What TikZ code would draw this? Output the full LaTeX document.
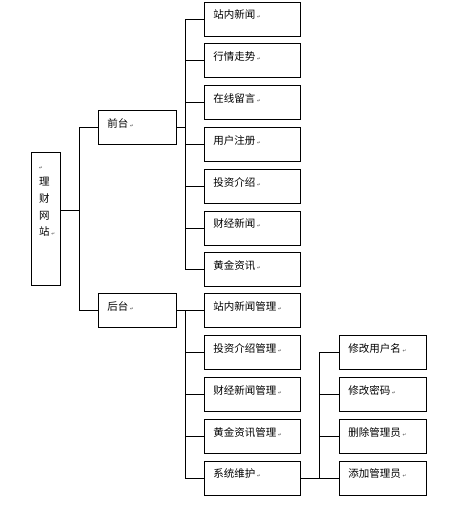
\documentclass[tikz,border=0pt]{standalone}
\usepackage{fontspec}
\newfontfamily\cjk{Noto Sans CJK SC}
\newfontfamily\symfont{DejaVu Sans}
\newcommand\parmark{{\symfont\fontsize{4.5}{5}\selectfont\textcolor{black!75}{↵}}}
\tikzset{
  conn/.style={line width=0.9pt},
  cbox/.style={draw, line width=0.9pt, anchor=north west, minimum height=34pt,
    inner xsep=8.5pt, inner ysep=0pt, text height=7pt, text depth=7pt,
    align=left, font=\cjk\fontsize{10.5}{12}\selectfont},
  wbox/.style={cbox, text width=79pt},
  rbox/.style={cbox, text width=69.4pt},
  mbox/.style={cbox, text width=60.4pt},
}
\begin{document}
\begin{tikzpicture}[x=1pt,y=-1pt]
\useasboundingbox (0,0) rectangle (456,509);
% root
\node[draw, line width=0.9pt, anchor=north west, minimum width=28.4pt, minimum height=133pt, inner sep=0pt] (root) at (31.3,152.3) {};
\node[anchor=north west, align=left, inner sep=0pt, font=\cjk\fontsize{10.5}{16.6}\selectfont] (roottext) at (39,166.3) {\parmark\\理\\财\\网\\站\,\parmark};
% level 1
\node[mbox] (qt) at (98.3,110.3) {前台\,\parmark};
\node[mbox] (ht) at (98.3,293.3) {后台\,\parmark};
% front children
\node[wbox] (f1) at (204.3,1.5) {站内新闻\,\parmark};
\node[wbox] (f2) at (204.3,43.3) {行情走势\,\parmark};
\node[wbox] (f3) at (204.3,85.1) {在线留言\,\parmark};
\node[wbox] (f4) at (204.3,126.9) {用户注册\,\parmark};
\node[wbox] (f5) at (204.3,168.7) {投资介绍\,\parmark};
\node[wbox] (f6) at (204.3,210.5) {财经新闻\,\parmark};
\node[wbox] (f7) at (204.3,252.3) {黄金资讯\,\parmark};
% back children
\node[wbox] (g1) at (204.3,293.3) {站内新闻管理\,\parmark};
\node[wbox] (g2) at (204.3,335.1) {投资介绍管理\,\parmark};
\node[wbox] (g3) at (204.3,376.9) {财经新闻管理\,\parmark};
\node[wbox] (g4) at (204.3,418.7) {黄金资讯管理\,\parmark};
\node[wbox] (g5) at (204.3,460.5) {系统维护\,\parmark};
% system maintenance children
\node[rbox] (s1) at (339.3,335.1) {修改用户名\,\parmark};
\node[rbox] (s2) at (339.3,376.9) {修改密码\,\parmark};
\node[rbox] (s3) at (339.3,418.7) {删除管理员\,\parmark};
\node[rbox] (s4) at (339.3,460.5) {添加管理员\,\parmark};
% buses
\coordinate (b0) at (79.3,210.3);
\coordinate (b1) at (185.3,0);
\coordinate (b3) at (319.3,0);
% root connectors
\draw[conn] (root.east |- b0) -- (b0);
\draw[conn] (qt.west) -| (b0 |- ht.west) -- (ht.west);
% front
\draw[conn] (qt.east) -- (qt.east -| b1);
\draw[conn] (f1.west) -| (b1 |- f7.west) -- (f7.west);
\foreach \n in {f2,f3,f4,f5,f6} \draw[conn] (\n.west) -- (\n.west -| b1);
% back
\draw[conn] (ht.east) -- (ht.east -| b1);
\draw[conn] (g1.west) -| (b1 |- g5.west) -- (g5.west);
\foreach \n in {g2,g3,g4} \draw[conn] (\n.west) -- (\n.west -| b1);
% system
\draw[conn] (g5.east) -- (g5.east -| b3);
\draw[conn] (s1.west) -| (b3 |- s4.west) -- (s4.west);
\foreach \n in {s2,s3} \draw[conn] (\n.west) -- (\n.west -| b3);
\end{tikzpicture}
\end{document}
